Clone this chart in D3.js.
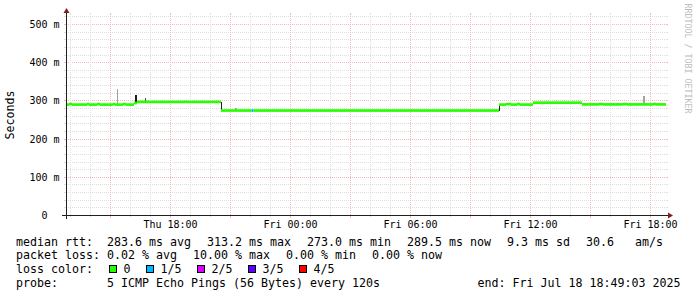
<!DOCTYPE html>
<html><head><meta charset="utf-8">
<script src="https://cdn.jsdelivr.net/npm/d3@7"></script>
<style>
html,body{margin:0;padding:0;background:#fff;}
svg{display:block;}
text{font-family:"DejaVu Sans Mono",monospace;white-space:pre;fill:#000;}
</style></head><body>
<svg id="c" width="697" height="297"></svg>
<script>
// ---------------- data ----------------
const startTime = "2025-07-17T12:49:03";
const endTime   = "2025-07-18T18:49:03";

// median rtt (ms), step segments starting at these times
const medianTimes = [
  "2025-07-17T12:49","2025-07-17T12:58","2025-07-17T13:07","2025-07-17T13:52","2025-07-17T13:58",
  "2025-07-17T14:22","2025-07-17T14:31","2025-07-17T15:10","2025-07-17T15:16","2025-07-17T15:40",
  "2025-07-17T15:49","2025-07-17T16:13","2025-07-17T16:22","2025-07-17T20:34","2025-07-17T22:06",
  "2025-07-17T22:12","2025-07-18T10:28","2025-07-18T10:49","2025-07-18T11:04","2025-07-18T11:22",
  "2025-07-18T11:31","2025-07-18T12:10","2025-07-18T14:37","2025-07-18T15:28","2025-07-18T15:40",
  "2025-07-18T16:40","2025-07-18T16:52","2025-07-18T18:10","2025-07-18T18:19"
];
const medianValues = [
  289, 290.5, 289, 290.5, 289,
  290.5, 289, 290.5, 289, 290.5,
  289, 293, 296, 273.5, 273.5,
  273.5, 289, 290.5, 289, 290.5,
  289, 294, 289.5, 290.5, 289.5,
  290.5, 289.5, 290.5, 289.5
];
// lost pings out of 5
const medianLoss = [
  0,0,0,0,0, 0,0,0,0,0, 0,0,0,0,1, 0,0,0,0,0, 0,0,0,0,0, 0,0,0,0
];

// smoke (spread of the individual pings)
const smokeStart = ["2025-07-17T15:22","2025-07-17T16:16","2025-07-17T16:46","2025-07-17T20:34",
                    "2025-07-17T21:16","2025-07-18T10:28","2025-07-18T17:39"];
const smokeEnd   = ["2025-07-17T15:25","2025-07-17T16:22","2025-07-17T16:49","2025-07-17T20:37",
                    "2025-07-17T21:22","2025-07-18T10:31","2025-07-18T17:45"];
const smokeLow   = [289, 290, 296, 273, 274, 273, 289];
const smokeHigh  = [329, 314, 305, 296, 281, 290, 311];
const smokeDensity = [1, 4, 3, 4, 1, 4, 1];

const yTickValues = [0, 100, 200, 300, 400, 500];
const yTickLabels = ["0  ", "100 m", "200 m", "300 m", "400 m", "500 m"];

const lossLabels = ["0", "1/5", "2/5", "3/5", "4/5"];
const lossColors = ["#26ff00", "#00b8ff", "#dd00ff", "#5e00ff", "#ff0000"];

const rttStatNames = ["avg", "max", "min", "now"];
const rttStats = [283.6, 313.2, 273.0, 289.5];
const rttSd = 9.3;
const amPerS = 30.6;
const lossStats = [0.02, 10.00, 0.00, 0.00];
const probeText = "5 ICMP Echo Pings (56 Bytes) every 120s";

// ---------------- drawing ----------------
const parse = s => new Date(s);
const svg = d3.select("#c");
const X0 = 66, XS = 600, Y0 = 215, YS = 200;
const x = d3.scaleTime().domain([parse(startTime), parse(endTime)]).range([X0, X0 + XS]);
const y = d3.scaleLinear().domain([0, YS / 0.382]).range([Y0, Y0 - YS]);

const GRID = "#dedede", MGRID = "#f0baba", AXIS = "#1f1f1f", ARROW = "#7f1f1f";

// horizontal grid
const gH = svg.append("g");
d3.range(20, y.domain()[1], 20).forEach(v => {
  const yy = Math.round(y(v)) + 0.5;
  const major = v % 100 === 0;
  const c = major ? MGRID : GRID;
  gH.append("line").attr("x1", X0).attr("x2", X0 + XS).attr("y1", yy).attr("y2", yy)
    .attr("stroke", c).attr("stroke-dasharray", "1,1").attr("shape-rendering", "crispEdges");
  gH.append("line").attr("x1", X0 - 2).attr("x2", X0).attr("y1", yy).attr("y2", yy)
    .attr("stroke", c).attr("shape-rendering", "crispEdges");
  gH.append("line").attr("x1", X0 + XS).attr("x2", X0 + XS + 2).attr("y1", yy).attr("y2", yy)
    .attr("stroke", c).attr("shape-rendering", "crispEdges");
});

// vertical grid
const hours = d3.timeHour.range(x.domain()[0], x.domain()[1]);
hours.forEach(h => {
  const xx = Math.round(x(h)) + 0.5;
  const major = h.getHours() % 3 === 0;
  const c = major ? MGRID : GRID;
  svg.append("line").attr("x1", xx).attr("x2", xx).attr("y1", Y0).attr("y2", Y0 - YS)
    .attr("stroke", c).attr("stroke-dasharray", "1,1").attr("shape-rendering", "crispEdges");
  svg.append("line").attr("x1", xx).attr("x2", xx).attr("y1", Y0).attr("y2", Y0 + (major ? 3 : 2))
    .attr("stroke", c).attr("shape-rendering", "crispEdges");
  svg.append("line").attr("x1", xx).attr("x2", xx).attr("y1", Y0 - YS - 2).attr("y2", Y0 - YS)
    .attr("stroke", c).attr("shape-rendering", "crispEdges");
});

// smoke
const shade = d3.scaleLinear().domain([1, 4]).range(["#a4a4a4", "#1e1e1e"]);
smokeStart.forEach((s, i) => {
  const x0 = x(parse(s)), x1 = x(parse(smokeEnd[i]));
  svg.append("rect").attr("x", x0).attr("width", Math.max(1, x1 - x0))
    .attr("y", y(smokeHigh[i])).attr("height", y(smokeLow[i]) - y(smokeHigh[i]))
    .attr("fill", shade(smokeDensity[i])).attr("shape-rendering", "crispEdges");
});

// median band coloured by loss
const band = 3.5; // ms half-height of median band
medianTimes.forEach((t, i) => {
  const t1 = i + 1 < medianTimes.length ? medianTimes[i + 1] : endTime;
  const x0 = x(parse(t)), x1 = x(parse(t1));
  const v = medianValues[i];
  svg.append("rect").attr("x", x0).attr("width", x1 - x0)
    .attr("y", y(v + band)).attr("height", y(v - band) - y(v + band))
    .attr("fill", lossColors[medianLoss[i]]);
});

// axes
svg.append("line").attr("x1", X0 - 4).attr("x2", X0 + XS + 4).attr("y1", Y0 + 0.5).attr("y2", Y0 + 0.5)
  .attr("stroke", AXIS).attr("shape-rendering", "crispEdges");
svg.append("line").attr("x1", X0 + 0.5).attr("x2", X0 + 0.5).attr("y1", Y0 + 4).attr("y2", Y0 - YS - 4)
  .attr("stroke", AXIS).attr("shape-rendering", "crispEdges");
svg.append("path").attr("fill", ARROW)
  .attr("d", `M${X0 + XS + 2},${Y0 + 0.5 - 3}L${X0 + XS + 2},${Y0 + 0.5 + 3}L${X0 + XS + 7},${Y0 + 0.5}Z`);
svg.append("path").attr("fill", ARROW)
  .attr("d", `M${X0 + 0.5 - 3},${Y0 - YS - 2}L${X0 + 0.5 + 3},${Y0 - YS - 2}L${X0 + 0.5},${Y0 - YS - 7}Z`);

// y labels
yTickValues.forEach((v, i) => {
  svg.append("text").attr("x", 59.5).attr("y", Math.round(y(v)) + 4)
    .attr("text-anchor", "end").attr("font-size", "10px").text(yTickLabels[i]);
});
// x labels
const fmt = d3.timeFormat("%a %H:%M");
d3.timeHour.every(6).range(x.domain()[0], x.domain()[1]).forEach(t => {
  svg.append("text").attr("x", Math.round(x(t)) + 0.5).attr("y", 228)
    .attr("text-anchor", "middle").attr("font-size", "10px").text(fmt(t));
});

// axis title
svg.append("text").attr("transform", `translate(14,${Y0 - YS / 2}) rotate(-90)`)
  .attr("text-anchor", "middle").attr("font-size", "11.63px").text("Seconds");

// watermark
svg.append("text").attr("transform", "translate(685,3.5) rotate(90)")
  .attr("font-size", "8.3px").style("fill", "#bdbdbd").text("RRDTOOL / TOBI OETIKER");

// legend
const LF = "11.63px", GAP = 16;
function legendLine(items, baseline) {
  let cx = 16;
  items.forEach(it => {
    if (it.color !== undefined) {
      svg.append("rect").attr("x", Math.round(cx) + 0.5).attr("y", baseline - 7.4)
        .attr("width", 7).attr("height", 7).attr("fill", it.color).attr("stroke", "#000")
        .attr("shape-rendering", "crispEdges");
      const t = svg.append("text").attr("x", cx + 14.5).attr("y", baseline).attr("font-size", LF).text(it.text);
      cx += 14.5 + t.node().getComputedTextLength() + 15.5;
    } else {
      const t = svg.append("text").attr("x", cx).attr("y", baseline).attr("font-size", LF).text(it.text);
      cx += t.node().getComputedTextLength() + GAP;
    }
  });
}
const f1 = d3.format(".1f"), f2 = d3.format(".2f");
const line1 = rttStats.map((v, i) => ({text: `${f1(v)} ms ${rttStatNames[i]}`}));
line1[0].text = "median rtt:  " + line1[0].text;
line1.push({text: `${f1(rttSd)} ms sd`}, {text: `${f1(amPerS)}   am/s`});
legendLine(line1, 245.7);

const line2 = lossStats.map((v, i) => ({text: `${f2(v)} % ${rttStatNames[i]}`}));
line2[0].text = "packet loss: " + line2[0].text;
legendLine(line2, 259.3);

legendLine([{text: "loss color:"}].concat(lossLabels.map((l, i) => ({text: l, color: lossColors[i]}))), 272.9);

legendLine([{text: "probe:       " + probeText}], 286.6);
svg.append("text").attr("x", 680.5).attr("y", 286.6).attr("text-anchor", "end").attr("font-size", LF)
  .text("end: " + d3.timeFormat("%a %b %d %H:%M:%S %Y")(parse(endTime)));
</script>
</body></html>
